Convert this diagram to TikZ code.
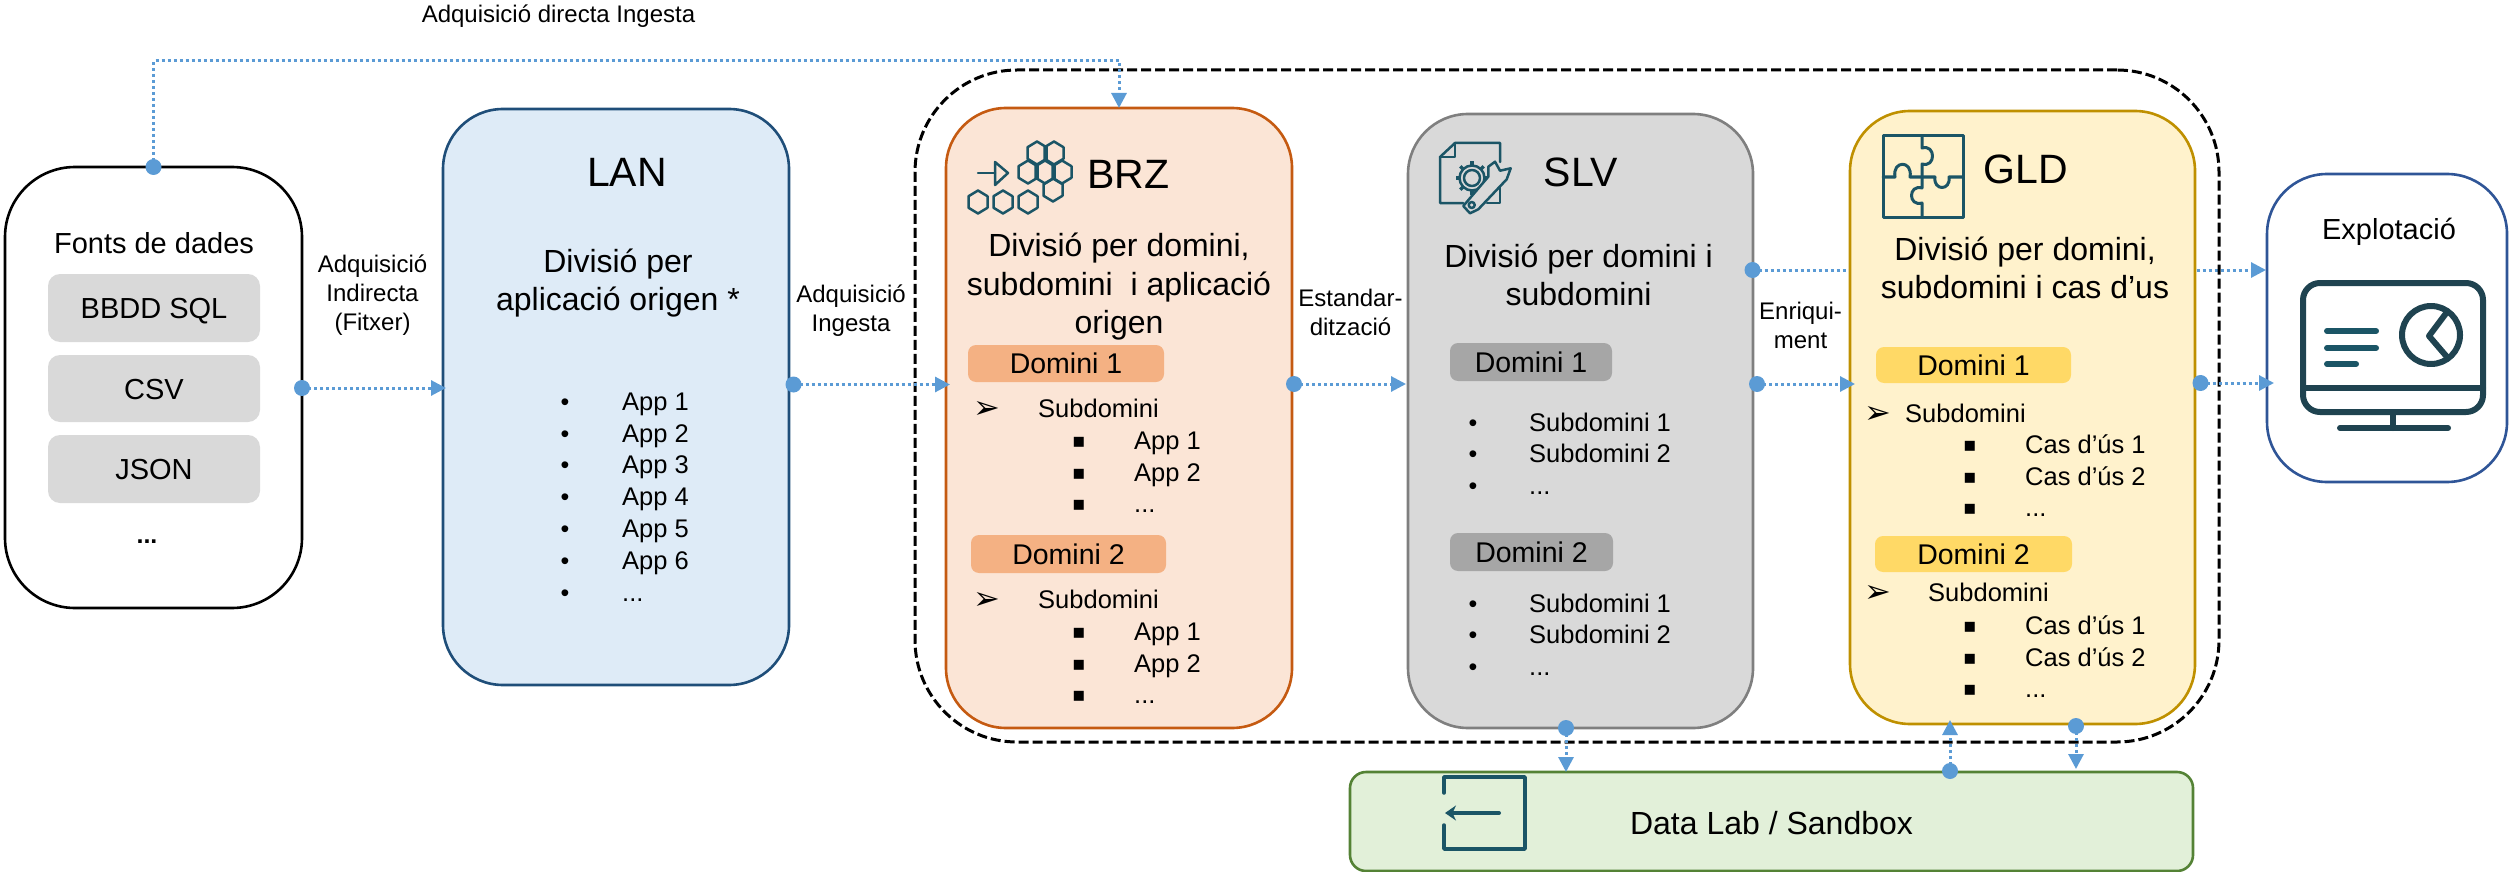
\documentclass[tikz,border=0pt]{standalone}
\usepackage{fontspec}
\setmainfont{Liberation Sans}
\newfontfamily\symfont{DejaVu Sans}
\usetikzlibrary{arrows.meta}
\pgfdeclarelayer{back}
\pgfsetlayers{back,main}
\definecolor{linkblue}{HTML}{5B9BD5}
\definecolor{iconteal}{HTML}{1B5566}
\definecolor{mondark}{HTML}{1F4350}
\definecolor{lanfill}{HTML}{DEEBF7}\definecolor{landraw}{HTML}{1F4E79}
\definecolor{brzfill}{HTML}{FBE5D6}\definecolor{brzdraw}{HTML}{C55A11}\definecolor{brzchip}{HTML}{F4B183}
\definecolor{slvfill}{HTML}{D9D9D9}\definecolor{slvdraw}{HTML}{7F7F7F}\definecolor{slvchip}{HTML}{A6A6A6}
\definecolor{gldfill}{HTML}{FFF2CC}\definecolor{glddraw}{HTML}{BF9000}\definecolor{gldchip}{HTML}{FFD966}
\definecolor{labfill}{HTML}{E2F0D9}\definecolor{labdraw}{HTML}{548235}
\definecolor{expdraw}{HTML}{2F5597}
\newcommand{\fsz}[1]{\fontsize{#1}{#1}\selectfont}
\newcommand{\tdots}{...}
% style, name, x1, y1, x2, y2, text
\newcommand{\zbox}[7]{\node[#1,minimum width={(#5)-(#3)},minimum height={(#6)-(#4)}] (#2) at ({(#3+#5)/2},{(#4+#6)/2}) {#7};}
\newcommand{\hexa}[2]{\draw[icon] (#1,#2) ++(0,-11.5) -- ++(9.5,5.75) -- ++(0,11.5) -- ++(-9.5,5.75) -- ++(-9.5,-5.75) -- ++(0,-11.5) -- cycle;}
\tikzset{
 box/.style={rectangle,rounded corners=60pt,line width=2.6pt,outer sep=0pt,inner sep=0pt},
 chip/.style={rectangle,rounded corners=8pt,outer sep=0pt,inner sep=0pt,text height=20.5pt,text depth=0pt,font=\fsz{28.5}},
 srcchip/.style={rectangle,rounded corners=12pt,fill=slvfill,outer sep=0pt,inner sep=0pt,text height=21pt,text depth=0pt,font=\fsz{29}},
 lbl/.style={inner sep=0pt,align=center,font=\fontsize{24}{29}\selectfont},
 head/.style={inner sep=0pt,align=center,font=\fontsize{32}{38.5}\selectfont},
 ttl/.style={inner sep=0pt,text height=29.5pt,text depth=0pt,font=\fsz{41}},
 item/.style={anchor=west,inner sep=0pt,text height=18pt,text depth=0pt,font=\fsz{25.5}},
 bul/.style={inner sep=0pt,text height=18pt,text depth=0pt,font=\fsz{25}},
 sqb/.style={inner sep=0pt,text height=14pt,text depth=0pt,font=\symfont\fsz{20}},
 arb/.style={inner sep=0pt,text height=20pt,text depth=0pt,font=\symfont\fsz{32}},
 dot/.style={circle,fill=linkblue,minimum size=16pt,inner sep=0pt,outer sep=0pt},
 link/.style={draw=linkblue,line width=3pt,dash pattern=on 3pt off 3pt},
 linkarrow/.style={link,-{Triangle[length=15pt,width=15pt]}},
 icon/.style={draw=iconteal,line width=2.5pt,line join=round,line cap=round},
 mon/.style={draw=mondark,line width=6pt,line join=round,line cap=round},
}
\begin{document}
\begin{tikzpicture}[x=1pt,y=-1pt]
\useasboundingbox (0,0) rectangle (2509,872);

% zone
\zbox{rectangle,draw=black,line width=3pt,rounded corners=102pt,dash pattern=on 10pt off 4pt,outer sep=0pt}{zone}{915}{70}{2219}{742}{}

% main boxes
\zbox{box,draw=black,fill=white,rounded corners=70pt}{fonts}{5}{167}{302}{608}{}
\zbox{box,draw=landraw,fill=lanfill}{lan}{443}{109}{789}{685}{}
\zbox{box,draw=brzdraw,fill=brzfill}{brz}{946}{108}{1292}{728}{}
\zbox{box,draw=slvdraw,fill=slvfill}{slv}{1408}{114}{1753}{728}{}
\zbox{box,draw=glddraw,fill=gldfill}{gld}{1850}{111}{2195}{724}{}
\zbox{box,draw=expdraw,fill=white}{exp}{2267}{174}{2507}{482}{}
\zbox{box,draw=labdraw,fill=labfill,rounded corners=16pt}{lab}{1350}{772}{2193}{871}{}

% sources
\node[inner sep=0pt,text height=21pt,text depth=0pt,font=\fsz{29}] (fontsT) at (154,243) {Fonts de dades};
\zbox{srcchip}{sql}{48}{274}{260}{342}{BBDD SQL}
\zbox{srcchip}{csv}{48}{355}{260}{422}{CSV}
\zbox{srcchip}{json}{48}{435}{260}{503}{JSON}
\node[inner sep=0pt,anchor=base,font=\bfseries\fsz{25}] (more) at (147,543) {...};

% LAN
\node[ttl] (lanT) at (627,172) {LAN};
\node[head] (lanH) at (618,283) {Divisió per\\aplicació origen *};
\foreach \t/\y/\k in {App 1/401/1,App 2/433/2,App 3/464.5/3,App 4/496/4,App 5/528.5/5,App 6/560/6,\tdots/592/7}{
  \node[bul] (lanB\k) at (565,\y) {•};
  \node[item] (lanI\k) at (622,\y) {\t};
}

% BRZ
\hexa{1037}{153}\hexa{1054}{153}\hexa{1028}{172}\hexa{1045}{172}\hexa{1062}{172}\hexa{1053}{190}
\hexa{978}{202}\hexa{1003}{202}\hexa{1028}{202}
\draw[icon] (978,173) -- (995,173);
\draw[icon] (995,162) -- (1008,173) -- (995,185) -- cycle;
\node[ttl] (brzT) at (1128.5,174) {BRZ};
\node[head] (brzH) at (1119,287) {Divisió per domini,\\subdomini\ \ i aplicació\\origen};
\zbox{chip,fill=brzchip}{brzD1}{968}{345}{1164}{382}{Domini 1}
\zbox{chip,fill=brzchip}{brzD2}{971}{535}{1166}{573}{Domini 2}
\foreach \o/\s in {0/a,191/b}{
  \node[arb] (brzA\s) at (987,408+\o) {➢};
  \node[item] (brzS\s) at (1038,408+\o) {Subdomini};
  \foreach \t/\y/\k in {App 1/440/1,App 2/472/2,\tdots/503/3}{
    \node[sqb] (brzQ\s\k) at (1079,\y+\o) {▪};
    \node[item] (brzI\s\k) at (1134,\y+\o) {\t};
  }
}

% SLV
\draw[icon] (1500,162) -- (1500,143) -- (1455,143) -- (1440,157) -- (1440,203) -- (1463,203);
\draw[icon] (1455,143) -- (1455,157) -- (1440,157);
\draw[icon] (1500,183) -- (1500,203) -- (1487,203);
\draw[icon] (1472,178) circle[radius=8];
\draw[icon] (1472,178) circle[radius=12.5];
\foreach \a in {90,135,...,270,315,360}{\draw[icon,line width=3.5pt,line cap=butt] (1472,178) ++(\a:12) -- ++(\a:4.5);}
\draw[icon,fill=slvfill] (1495,161.7) -- (1500,170.7) -- (1510.7,168.3) -- (1506.7,179.3) -- (1478.3,209.3) -- (1470,213.3) -- (1463.3,206) -- (1488.3,176.7) -- (1488.3,166.7) -- cycle;
\draw[icon] (1471.7,205) circle[radius=3];
\node[ttl] (slvT) at (1581,172) {SLV};
\node[head] (slvH) at (1578.5,275) {Divisió per domini i\\subdomini};
\zbox{chip,fill=slvchip}{slvD1}{1450}{343}{1612}{381}{Domini 1}
\zbox{chip,fill=slvchip}{slvD2}{1450}{533}{1613}{571}{Domini 2}
\foreach \o/\s in {0/a,181/b}{
  \foreach \t/\y/\k in {Subdomini 1/422/1,Subdomini 2/453/2,\tdots/485/3}{
    \node[bul] (slvB\s\k) at (1473,\y+\o) {•};
    \node[item] (slvI\s\k) at (1529,\y+\o) {\t};
  }
}

% GLD
\draw[icon,line width=3pt] (1883,136) rectangle (1963,217);
\draw[icon,line width=3pt] (1922,136) -- (1922,148) .. controls (1936,144) and (1936,168) .. (1922,164) -- (1922,177);
\draw[icon,line width=3pt] (1883,177) -- (1895,177) .. controls (1892,160) and (1913,160) .. (1910,177) -- (1922,177);
\draw[icon,line width=3pt] (1922,177) -- (1935,177) .. controls (1933,191) and (1951,191) .. (1949,177) -- (1963,177);
\draw[icon,line width=3pt] (1922,177) -- (1922,188) .. controls (1908,184) and (1908,207) .. (1922,203) -- (1922,217);
\node[ttl] (gldT) at (2025.5,169) {GLD};
\node[head] (gldH) at (2025,268) {Divisió per domini,\\subdomini i cas d’us};
\zbox{chip,fill=gldchip}{gldD1}{1876}{347}{2071}{383}{Domini 1}
\zbox{chip,fill=gldchip}{gldD2}{1875}{536}{2072}{572}{Domini 2}
\foreach \o/\p/\s/\sx in {0/0/a/1905,179/181/b/1928}{
  \node[arb] (gldA\s) at (1878,413+\o) {➢};
  \node[item] (gldS\s) at (\sx,413+\o) {Subdomini};
  \foreach \t/\y/\k in {Cas d’ús 1/444/1,Cas d’ús 2/476/2,\tdots/507.5/3}{
    \node[sqb] (gldQ\s\k) at (1970,\y+\p) {▪};
    \node[item] (gldI\s\k) at (2025,\y+\p) {\t};
  }
}

% Explotacio
\node[inner sep=0pt,text height=21pt,text depth=0pt,font=\fsz{29}] (expT) at (2389,229) {Explotació};
\draw[mon,rounded corners=17pt] (2303,283) rectangle (2483,412);
\draw[mon] (2303,388) -- (2483,388);
\draw[mon] (2393,412) -- (2393,428);
\draw[mon] (2340,428) -- (2448,428);
\draw[mon,draw=iconteal] (2327,331) -- (2376,331);
\draw[mon,draw=iconteal] (2327,348) -- (2376,348);
\draw[mon,draw=iconteal] (2327,364) -- (2356,364);
\draw[mon] (2431,335) circle[radius=29];
\draw[mon] (2447,312) -- (2429,336) -- (2447,357);

% Data lab
\draw[icon,line width=3.5pt] (1444,793) -- (1444,777) -- (1525,777) -- (1525,849) -- (1444,849) -- (1444,825);
\draw[icon,line width=4pt,-{Stealth[length=11pt,width=15pt]}] (1499,813) -- (1445,813);
\node[inner sep=0pt,text height=23pt,text depth=0pt,font=\fsz{32}] (labT) at (1771.5,823) {Data Lab / Sandbox};

% labels
\node[lbl] (lA) at (558.5,16) {Adquisició directa Ingesta};
\node[lbl] (lB) at (372.5,295) {Adquisició\\Indirecta\\(Fitxer)};
\node[lbl] (lC) at (851,310.5) {Adquisició\\Ingesta};
\node[lbl] (lD) at (1350.5,312) {Estandar-\\dització};
\node[lbl] (lE) at (1800.5,325) {Enriqui-\\ment};

% connector dots
\node[dot] (d1) at (fonts.north) {};
\node[dot] (d2) at (302,388) {};
\node[dot] (d3) at (793.5,384.5) {};
\node[dot] (d4) at (1294,384) {};
\node[dot] (d5) at (1752.5,270) {};
\node[dot] (d6) at (1757,384) {};
\node[dot] (d7) at (2200.5,383) {};
\node[dot] (d8) at (1566,728) {};
\node[dot] (d9) at (1950,771) {};
\node[dot] (d10) at (2076,726) {};
\coordinate (top) at (153.5,61);

% connectors
\draw[linkarrow] (d1.center) -- (top) -- (top -| brz.north) -- (brz.north);
\draw[linkarrow,shorten >=-3pt] (d2.center) -- (d2 -| lan.west);
\draw[linkarrow,shorten >=-4pt] (d3.center) -- (d3 -| brz.west);
\draw[linkarrow,shorten >=2pt] (d4.center) -- (d4 -| slv.west);
\begin{pgfonlayer}{back}
\draw[linkarrow,shorten >=1pt] (d5.center) -- (d5 -| exp.west);
\end{pgfonlayer}
\draw[linkarrow,shorten >=-5pt] (d6.center) -- (d6 -| gld.west);
\draw[linkarrow,shorten >=-7pt] (d7.center) -- (d7 -| exp.west);
\draw[linkarrow] (d8.center) -- (d8 |- lab.north);
\draw[linkarrow,shorten >=-4pt] (d9.center) -- (d9 |- gld.south);
\draw[linkarrow,shorten >=3pt] (d10.center) -- (d10 |- lab.north);
\end{tikzpicture}
\end{document}
